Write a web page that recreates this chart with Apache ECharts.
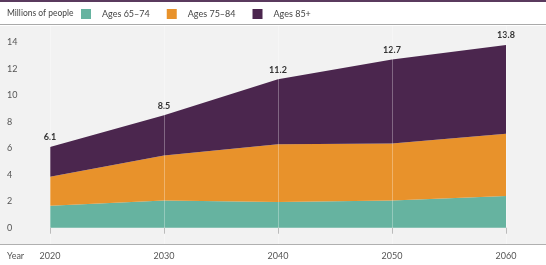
<!DOCTYPE html>
<html>
<head>
<meta charset="utf-8">
<script src="https://cdn.jsdelivr.net/npm/echarts@6/dist/echarts.min.js"></script>
<style>
  html, body { margin: 0; padding: 0; background: #fff; }
  #chart { width: 546px; height: 265px; }
</style>
</head>
<body>
<div id="chart"></div>
<script>
const years = ['2020', '2030', '2040', '2050', '2060']
const ages6574 = [1.65, 2.05, 1.95, 2.05, 2.4]
const ages7584 = [2.2, 3.4, 4.35, 4.3, 4.7]
const ages85 = [2.25, 3.05, 4.9, 6.35, 6.7]
const totals = [6.1, 8.5, 11.2, 12.7, 13.8]
const yTicks = [0, 2, 4, 6, 8, 10, 12, 14]

const font = 'Lato'

function areaSeries(name, data, color) {
  return {
    name: name,
    type: 'line',
    stack: 'total',
    symbol: 'none',
    lineStyle: { width: 0 },
    areaStyle: { color: color, opacity: 1 },
    itemStyle: { color: color },
    data: data
  }
}

const oldest = areaSeries('Ages 85+', ages85, '#4b264e')
// labels only render when symbols exist, so keep them at zero size
oldest.symbol = 'circle'
oldest.symbolSize = 0
oldest.showSymbol = true
oldest.label = {
  show: true,
  position: 'top',
  distance: 5,
  fontFamily: font,
  fontSize: 9,
  fontWeight: 'bold',
  color: '#333',
  formatter: p => totals[p.dataIndex].toFixed(1)
}

const myChart = echarts.init(document.getElementById('chart'))
myChart.setOption({
  animation: false,
  textStyle: { fontFamily: font },
  grid: { left: 50, right: 40, top: 26, bottom: 21 },
  legend: {
    left: 76, top: 4,
    icon: 'rect', itemWidth: 10, itemHeight: 10, itemGap: 17,
    textStyle: { fontFamily: font, fontSize: 9, color: '#444', padding: [0, 0, 0, 6] },
    data: ['Ages 65–74', 'Ages 75–84', 'Ages 85+']
  },
  xAxis: {
    type: 'category',
    boundaryGap: false,
    data: years,
    z: 10,
    axisLine: { show: false },
    axisTick: { show: true, length: 6, lineStyle: { color: '#bbb' } },
    splitLine: { show: true, lineStyle: { color: 'rgba(255,255,255,0.3)', width: 1 } },
    axisLabel: { fontFamily: font, fontSize: 9, color: '#555', margin: 8 }
  },
  yAxis: {
    type: 'value',
    min: -1.23,
    max: 15.23,
    axisLine: { show: false },
    axisTick: { show: false },
    splitLine: { show: false },
    axisLabel: {
      customValues: yTicks,
      align: 'left',
      margin: 43,
      fontFamily: font, fontSize: 9, color: '#555'
    }
  },
  graphic: [
    { type: 'rect', z: -10, shape: { x: 0, y: 26, width: 546, height: 218 }, style: { fill: '#f2f2f2' } },
    { type: 'rect', z: 5, shape: { x: 0, y: 244, width: 546, height: 1 }, style: { fill: '#b0b0b0' } },
    { type: 'rect', shape: { x: 0, y: 0, width: 546, height: 2 }, style: { fill: '#5a3a5e' } },
    { type: 'rect', shape: { x: 0, y: 24, width: 546, height: 1 }, style: { fill: '#aaa' } },
    { type: 'text', left: 7, top: 9, style: { text: 'Millions of people', font: '8.5px Lato', fill: '#444' } },
    { type: 'text', left: 7, top: 252, style: { text: 'Year', font: '9px Lato', fill: '#555' } }
  ],
  series: [
    areaSeries('Ages 65–74', ages6574, '#66b3a0'),
    areaSeries('Ages 75–84', ages7584, '#e8922b'),
    oldest
  ]
})
</script>
</body>
</html>
